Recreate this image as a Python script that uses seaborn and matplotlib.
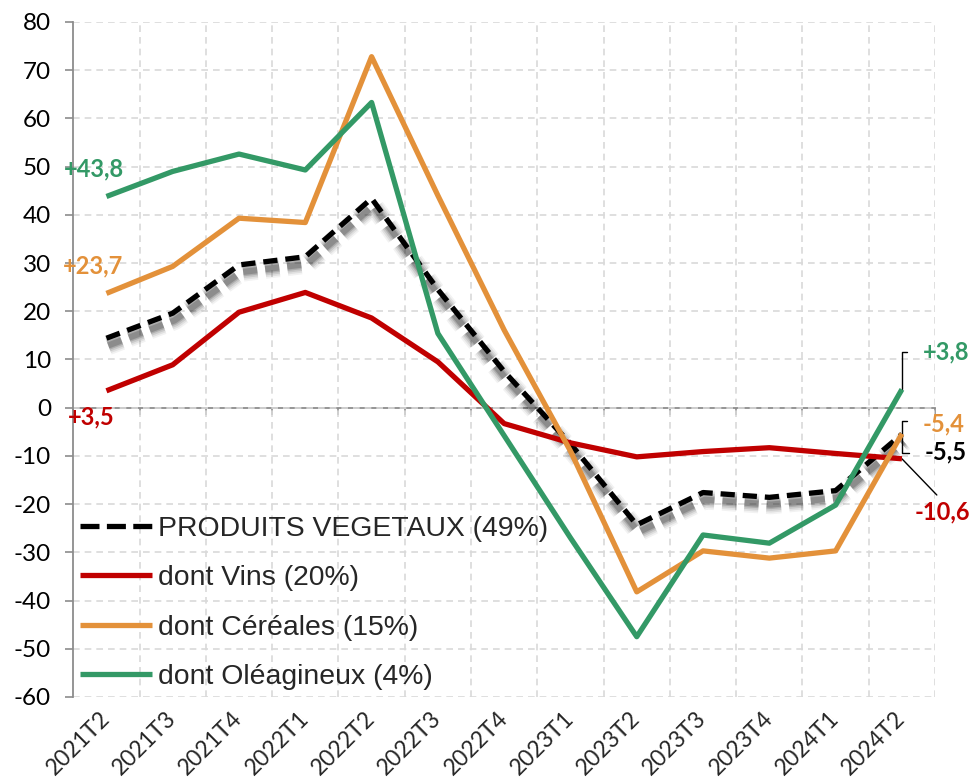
import numpy as np
import pandas as pd
import matplotlib
matplotlib.use("Agg")
import matplotlib.pyplot as plt
import matplotlib.patheffects as pe
import seaborn as sns

quarters = ["2021T2", "2021T3", "2021T4", "2022T1", "2022T2", "2022T3", "2022T4",
            "2023T1", "2023T2", "2023T3", "2023T4", "2024T1", "2024T2"]
vegetaux = [14.4, 19.6, 29.6, 31.3, 43.4, 24.5, 7.5, -7.5, -24.3, -17.6, -18.6, -17.2, -5.5]
vins = [3.5, 8.9, 19.8, 23.9, 18.6, 9.5, -3.3, -7.3, -10.2, -9.1, -8.3, -9.5, -10.6]
cereales = [23.7, 29.3, 39.3, 38.4, 72.8, 44.0, 16.1, -9.0, -38.2, -29.7, -31.2, -29.7, -5.4]
oleagineux = [43.8, 49.0, 52.6, 49.3, 63.3, 15.4, -5.8, -27.0, -47.5, -26.4, -28.1, -20.2, 3.8]

series_names = ["PRODUITS VEGETAUX (49%)", "dont Vins (20%)", "dont Céréales (15%)", "dont Oléagineux (4%)"]
series_values = [vegetaux, vins, cereales, oleagineux]
colors = ["#000000", "#C00000", "#E3913A", "#339966"]
yticks = list(range(-60, 90, 10))

sns.set_style("white")
plt.rcParams["axes.unicode_minus"] = False
plt.rcParams["font.family"] = ["Lato", "DejaVu Sans"]

fig = plt.figure(figsize=(9.72, 7.84), dpi=100)
ax = fig.add_axes([0.0754, 0.111, 0.8866, 0.861])

for name, vals, col in zip(series_names, series_values, colors):
    df = pd.DataFrame({"q": quarters, "v": vals})
    sns.lineplot(data=df, x="q", y="v", color=col, lw=3.8, ax=ax, label=name,
                 sort=False, legend=False)

lines = ax.get_lines()
black = lines[0]
black.set_dashes((2.7, 1.5))
black.set_zorder(3)
shadows = [pe.SimpleLineShadow(offset=(1.3, -5.2), shadow_color="black", alpha=a, linewidth=w)
           for w, a in ((14, 0.05), (11.5, 0.07), (9, 0.10), (6.5, 0.14), (4.5, 0.18))]
black.set_path_effects(shadows + [pe.Normal()])
for i, ln in enumerate(lines[1:]):
    ln.set_zorder(4 + i)
    ln.set_solid_capstyle("butt")

ax.set_xlim(-0.5, len(quarters) - 0.5)
ax.set_ylim(-60, 80)
ax.set_yticks(yticks)
ax.set_yticklabels([str(t) for t in yticks])
ax.set_xlabel("")
ax.set_ylabel("")

# grid
ax.set_xticks(np.arange(len(quarters)) + 0.5, minor=True)
ax.grid(False)
ax.grid(True, which="minor", axis="x", color="#d9d9d9", lw=1.2, ls=(0, (4, 3)))
ax.grid(True, which="major", axis="y", color="#d9d9d9", lw=1.2, ls=(0, (4, 3)))
ax.set_axisbelow(True)

for s in ["top", "right", "bottom"]:
    ax.spines[s].set_visible(False)
ax.spines["left"].set_color("#8c8c8c")
ax.spines["left"].set_linewidth(1.3)
ax.tick_params(axis="y", which="major", direction="out", length=6, width=1.2,
               color="#8c8c8c", pad=10, labelsize=17.5, labelcolor="black", left=True)
ax.tick_params(axis="x", which="both", length=0, pad=13, labelsize=16.5)
for lab in ax.get_xticklabels():
    lab.set_rotation(45)
    lab.set_ha("right")
    lab.set_va("center")
    lab.set_rotation_mode("anchor")

# zero axis line with ticks at category boundaries
zero_frac = (0 - (-60)) / 140
sec = ax.secondary_xaxis(zero_frac)
sec.set_xticks(np.arange(len(quarters) + 1) - 0.5)
sec.set_xticklabels([])
sec.spines["bottom"].set_color("#8c8c8c")
sec.spines["bottom"].set_linewidth(1.3)
sec.spines["top"].set_visible(False)
sec.tick_params(axis="x", direction="out", length=5, width=1.2, color="#8c8c8c")

# legend
handles = lines
leg = ax.legend(handles, series_names, loc="upper left", bbox_to_anchor=(0.0078, 0.268),
                frameon=False, borderpad=0, borderaxespad=0, handlelength=2.55,
                handletextpad=0.2, labelspacing=0.82,
                prop={"family": "Liberation Sans", "size": 20.4})
for h in leg.get_lines():
    h.set_linewidth(3.8)
    h.set_path_effects([])
leg.get_lines()[0].set_dashes((3.6, 1.4))

# data labels
bold = {"family": ["Lato", "DejaVu Sans"], "weight": "bold", "size": 17}
ax.annotate("+43,8", (0, oleagineux[0]), xytext=(-12, 28), textcoords="offset pixels",
            ha="center", va="center", color=colors[3], **bold)
ax.annotate("+23,7", (0, cereales[0]), xytext=(-13, 27), textcoords="offset pixels",
            ha="center", va="center", color=colors[2], **bold)
ax.annotate("+3,5", (0, vins[0]), xytext=(-15, -26), textcoords="offset pixels",
            ha="center", va="center", color=colors[1], **bold)

last = len(quarters) - 1
arrow = dict(arrowstyle="-", color="black", lw=1.0, shrinkA=9, shrinkB=0,
             connectionstyle="angle,angleA=0,angleB=90,rad=0")
ax.annotate("+3,8", (last, oleagineux[-1]), xytext=(44, 37), textcoords="offset pixels",
            ha="center", va="center", color=colors[3],
            arrowprops=dict(arrow, relpos=(0, 0.5)), **bold)
ax.annotate("-5,4", (last, cereales[-1]), xytext=(42, 10), textcoords="offset pixels",
            ha="center", va="center", color=colors[2],
            arrowprops=dict(arrow, relpos=(0, 0.6)), **bold)
ax.annotate("-5,5", (last, vegetaux[-1]), xytext=(44, -18), textcoords="offset pixels",
            ha="center", va="center", color="black",
            arrowprops=dict(arrow, relpos=(0, 0.45)), **bold)
ax.annotate("-10,6", (last, vins[-1]), xytext=(40, -53), textcoords="offset pixels",
            ha="center", va="center", color=colors[1],
            arrowprops=dict(arrowstyle="-", color="black", lw=1.0, shrinkA=2, shrinkB=0,
                            relpos=(0.5, 1.0)), **bold)

fig.savefig("out.png", dpi=100)
